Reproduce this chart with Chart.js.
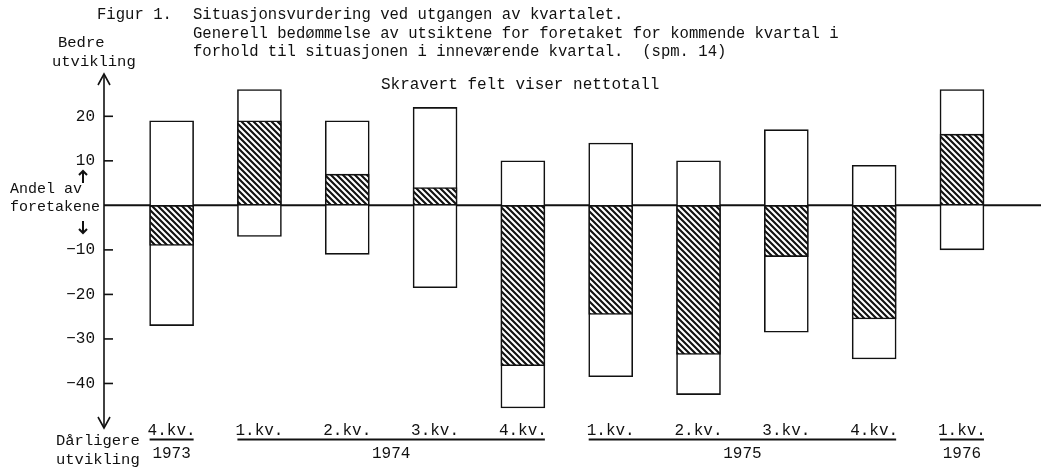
<!DOCTYPE html>
<html>
<head>
<meta charset="utf-8">
<script src="https://cdn.jsdelivr.net/npm/chart.js@4.4.1/dist/chart.umd.min.js"></script>
<style>
  html, body { margin: 0; padding: 0; background: #fff; }
  #wrap { width: 1041px; height: 471px; position: relative; }
</style>
</head>
<body>
<div id="wrap"><canvas id="c" width="1041" height="471"></canvas></div>
<script>
// ---- Data ----
const quarters = ['4.kv.', '1.kv.', '2.kv.', '3.kv.', '4.kv.', '1.kv.', '2.kv.', '3.kv.', '4.kv.', '1.kv.'];
const yearGroups = [
  { year: '1973', from: 0, to: 0 },
  { year: '1974', from: 1, to: 4 },
  { year: '1975', from: 5, to: 8 },
  { year: '1976', from: 9, to: 9 }
];
const better = [19, 26, 19, 22, 10, 14, 10, 17, 9, 26];          // share expecting better
const worse = [-27, -7, -11, -18.5, -45.5, -38.5, -42.5, -28.5, -34.5, -10]; // share expecting worse
const net = [-9, 19, 7, 4, -36, -24.5, -33.5, -11.5, -25.5, 16];  // net (hatched)
const yTicks = [20, 10, -10, -20, -30, -40];

const titleLines = [
  'Situasjonsvurdering ved utgangen av kvartalet.',
  'Generell bedømmelse av utsiktene for foretaket for kommende kvartal i',
  'forhold til situasjonen i inneværende kvartal.  (spm. 14)'
];

// ---- Hatch pattern ----
function hatch() {
  const s = 6;
  const pc = document.createElement('canvas');
  pc.width = s; pc.height = s;
  const p = pc.getContext('2d');
  p.fillStyle = '#fff'; p.fillRect(0, 0, s, s);
  p.strokeStyle = '#111'; p.lineWidth = 2.1; p.lineCap = 'square';
  p.beginPath();
  p.moveTo(-1, -1); p.lineTo(s + 1, s + 1);
  p.moveTo(-1, s - 1); p.lineTo(1, s + 1);
  p.moveTo(s - 1, -1); p.lineTo(s + 1, 1);
  p.stroke();
  return p.createPattern(pc, 'repeat');
}
const pattern = hatch();

const outerData = better.map((b, i) => ({ x: i, y: [worse[i], b] }));
const netData = net.map((n, i) => ({ x: i, y: [0, n] }));

const MONO = '"Liberation Mono", "DejaVu Sans Mono", monospace';
const INK = '#111';

const decor = {
  id: 'decor',
  beforeDatasetsDraw(chart) {
    const c = chart.ctx;
    const ys = chart.scales.y;
    const y0 = ys.getPixelForValue(0);
    c.save();
    c.strokeStyle = INK;
    c.lineWidth = 2;
    c.beginPath(); c.moveTo(chart.chartArea.left, y0); c.lineTo(chart.width, y0); c.stroke();
    c.restore();
  },
  afterDatasetsDraw(chart) {
    const c = chart.ctx;
    const xs = chart.scales.x, ys = chart.scales.y;
    const ax = chart.chartArea.left;
    const top = chart.chartArea.top, bot = chart.chartArea.bottom;
    c.save();
    c.strokeStyle = INK; c.fillStyle = INK;
    c.lineWidth = 1.6;
    // vertical axis with arrows
    c.beginPath(); c.moveTo(ax, top); c.lineTo(ax, bot); c.stroke();
    c.beginPath();
    c.moveTo(ax - 6, top + 11); c.lineTo(ax, top); c.lineTo(ax + 6, top + 11);
    c.moveTo(ax - 6, bot - 11); c.lineTo(ax, bot); c.lineTo(ax + 6, bot - 11);
    c.stroke();
    // ticks + labels
    c.font = '16px ' + MONO;
    c.textAlign = 'right'; c.textBaseline = 'middle';
    yTicks.forEach(v => {
      const py = ys.getPixelForValue(v);
      c.beginPath(); c.moveTo(ax, py); c.lineTo(ax + 9, py); c.stroke();
      c.fillText(String(v).replace('-', '\u2212'), ax - 9, py);
    });
    // axis captions
    c.textAlign = 'left'; c.textBaseline = 'alphabetic';
    c.font = '15.5px ' + MONO;
    c.fillText('Bedre', 58, 47);
    c.fillText('utvikling', 52, 66);
    c.font = '15px ' + MONO;
    c.fillText('Andel av', 10, 193);
    c.fillText('foretakene', 10, 211);
    c.font = '15.5px ' + MONO;
    c.fillText('Dårligere', 56, 445);
    c.fillText('utvikling', 56, 464);
    // small arrows
    c.lineWidth = 2;
    const ar = (x, y1, y2) => {
      const d = y2 > y1 ? 1 : -1;
      c.beginPath(); c.moveTo(x, y1); c.lineTo(x, y2); c.stroke();
      c.beginPath(); c.moveTo(x - 4, y2 - 4 * d); c.lineTo(x, y2); c.lineTo(x + 4, y2 - 4 * d); c.stroke();
    };
    ar(83, 183, 171);
    ar(83, 221, 233);
    c.lineWidth = 1.6;
    c.textAlign = 'center';
    // quarter labels
    c.font = '16px ' + MONO;
    quarters.forEach((q, i) => {
      c.fillText(q, xs.getPixelForValue(i), 435);
    });
    // year groups with underline
    const half = 22;
    c.lineWidth = 1.8;
    yearGroups.forEach(g => {
      const x1 = xs.getPixelForValue(g.from) - half;
      const x2 = xs.getPixelForValue(g.to) + half;
      c.beginPath(); c.moveTo(x1, 439.5); c.lineTo(x2, 439.5); c.stroke();
      c.fillText(g.year, (x1 + x2) / 2, 458);
    });
    // titles
    c.textAlign = 'left';
    c.font = '15.6px ' + MONO;
    c.fillText('Figur 1.', 97, 19);
    titleLines.forEach((t, i) => c.fillText(t, 193, 19 + i * 18.5));
    c.font = '16px ' + MONO;
    c.fillText('Skravert felt viser nettotall', 381, 89);
    c.restore();
  }
};

new Chart(document.getElementById('c'), {
  type: 'bar',
  data: {
    datasets: [
      {
        label: 'Total',
        data: outerData,
        backgroundColor: '#fff',
        borderColor: INK,
        borderWidth: 1.6,
        borderSkipped: false,
        barThickness: 44,
        grouped: false,
        order: 2
      },
      {
        label: 'Nettotall',
        data: netData,
        backgroundColor: pattern,
        borderColor: INK,
        borderWidth: 1.6,
        borderSkipped: false,
        barThickness: 44,
        grouped: false,
        order: 1
      }
    ]
  },
  options: {
    responsive: false,
    animation: false,
    events: [],
    layout: { padding: { left: 104, right: 0, top: 74, bottom: 43 } },
    plugins: { legend: { display: false }, tooltip: { enabled: false }, title: { display: false } },
    scales: {
      x: { type: 'linear', min: -0.77, max: 9.9, offset: false, display: false },
      y: { type: 'linear', min: -50, max: 29.5, display: false }
    }
  },
  plugins: [decor]
});
</script>
</body>
</html>
